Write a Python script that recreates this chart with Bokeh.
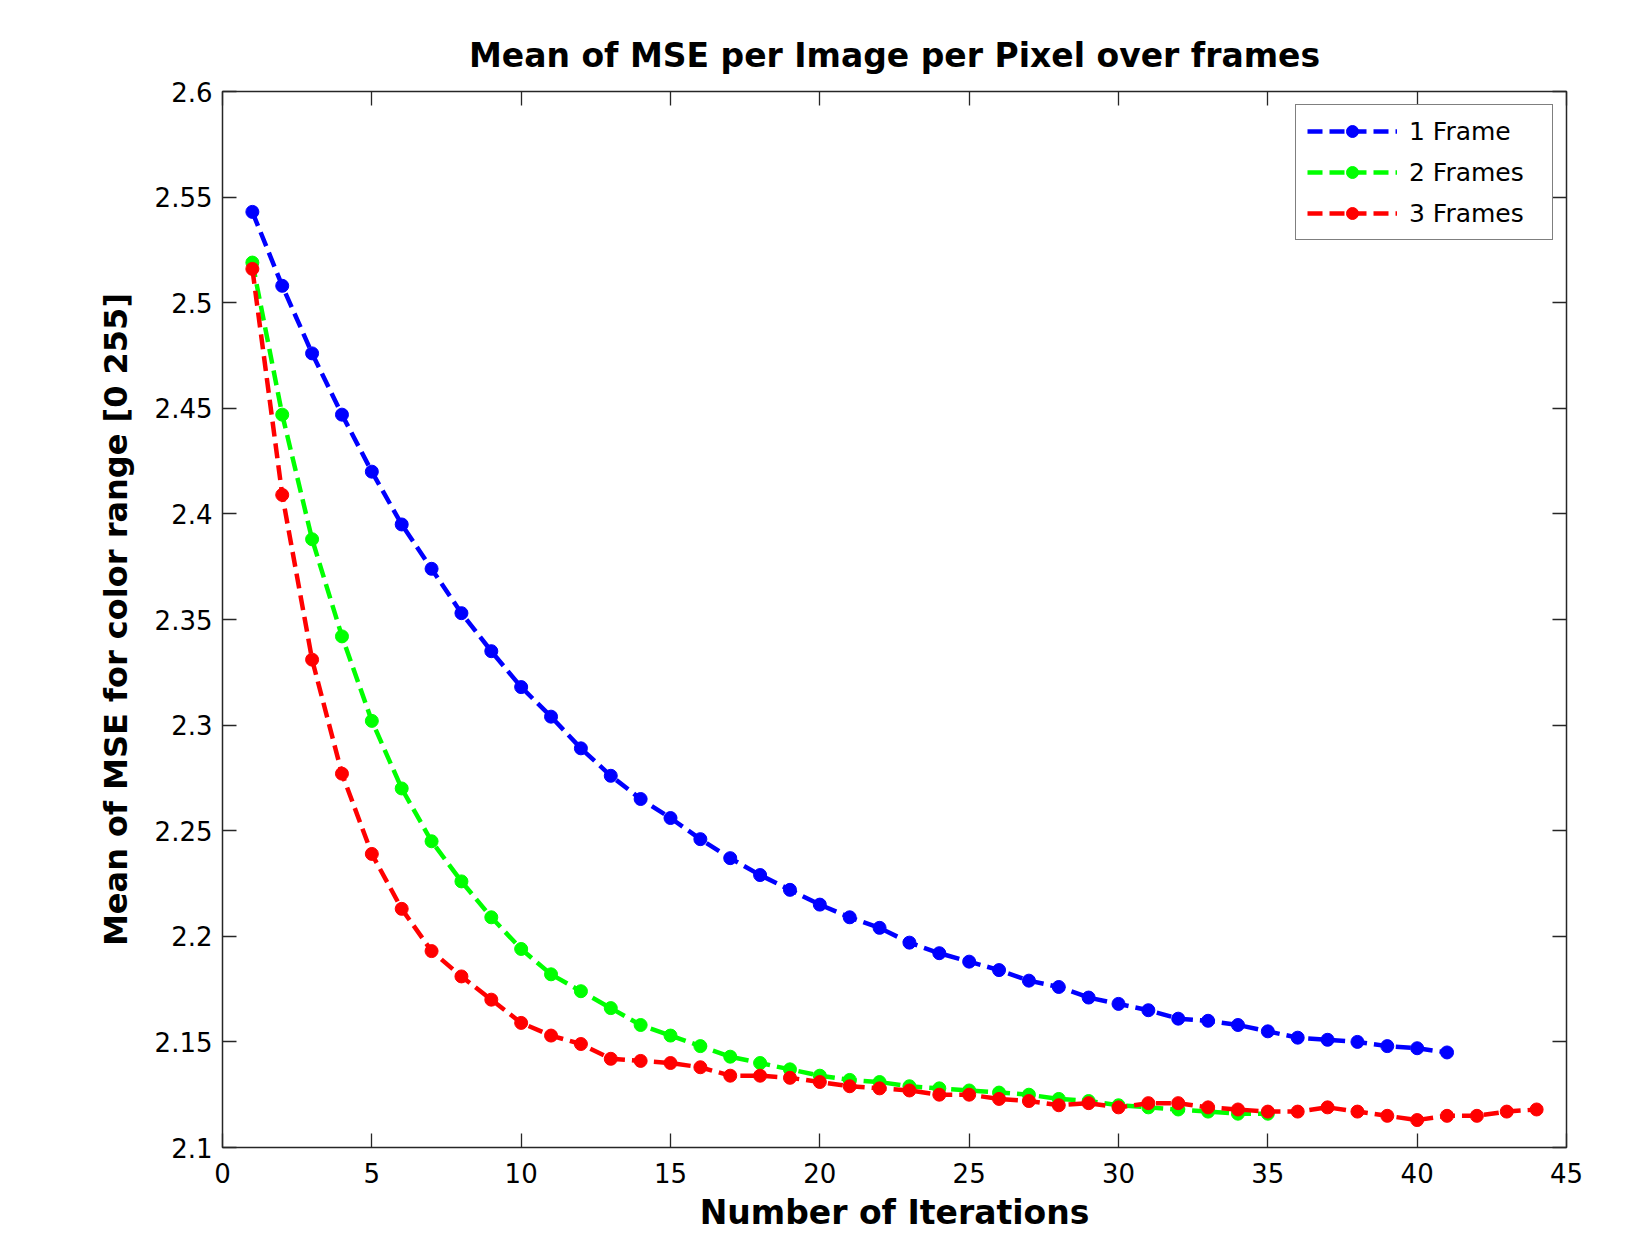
from bokeh.plotting import figure
from bokeh.models import LinearAxis, FixedTicker, CustomJSTickFormatter, Range1d, Legend, LegendItem
from bokeh.embed import file_html
from bokeh.resources import INLINE

# ---- data ----
iter_1frame = list(range(1, 42))
mse_1frame = [2.543, 2.508, 2.476, 2.447, 2.420, 2.395, 2.374, 2.353, 2.335, 2.318,
              2.304, 2.289, 2.276, 2.265, 2.256, 2.246, 2.237, 2.229, 2.222, 2.215,
              2.209, 2.204, 2.197, 2.192, 2.188, 2.184, 2.179, 2.176, 2.171, 2.168,
              2.165, 2.161, 2.160, 2.158, 2.155, 2.152, 2.151, 2.150, 2.148, 2.147,
              2.145]

iter_2frames = list(range(1, 36))
mse_2frames = [2.519, 2.447, 2.388, 2.342, 2.302, 2.270, 2.245, 2.226, 2.209, 2.194,
               2.182, 2.174, 2.166, 2.158, 2.153, 2.148, 2.143, 2.140, 2.137, 2.134,
               2.132, 2.131, 2.129, 2.128, 2.127, 2.126, 2.125, 2.123, 2.122, 2.120,
               2.119, 2.118, 2.117, 2.116, 2.116]

iter_3frames = list(range(1, 45))
mse_3frames = [2.516, 2.409, 2.331, 2.277, 2.239, 2.213, 2.193, 2.181, 2.170, 2.159,
               2.153, 2.149, 2.142, 2.141, 2.140, 2.138, 2.134, 2.134, 2.133, 2.131,
               2.129, 2.128, 2.127, 2.125, 2.125, 2.123, 2.122, 2.120, 2.121, 2.119,
               2.121, 2.121, 2.119, 2.118, 2.117, 2.117, 2.119, 2.117, 2.115, 2.113,
               2.115, 2.115, 2.117, 2.118]

series_labels = ["1 Frame", "2 Frames", "3 Frames"]
series_colors = ["#0000FF", "#00FF00", "#FF0000"]

x_ticks = [0, 5, 10, 15, 20, 25, 30, 35, 40, 45]
y_ticks = [2.1, 2.15, 2.2, 2.25, 2.3, 2.35, 2.4, 2.45, 2.5, 2.55, 2.6]

FONT = "DejaVu Sans"
AXC = "#262626"

p = figure(width=1620, height=1234, output_backend="svg", toolbar_location=None,
           x_range=Range1d(0, 45), y_range=Range1d(2.1, 2.6),
           title="Mean of MSE per Image per Pixel over frames",
           min_border_left=222, min_border_right=54, min_border_top=91, min_border_bottom=85)

p.background_fill_color = "white"
p.border_fill_color = "white"
p.outline_line_color = AXC
p.outline_line_width = 1.5
p.grid.visible = False

p.title.text_font = FONT
p.title.text_font_size = "33px"
p.title.text_font_style = "bold"
p.title.align = "center"
p.title.text_color = "black"
p.title.offset = 0
p.title.standoff = 34

yfmt = CustomJSTickFormatter(code="return tick.toFixed(2).replace(/0$/, '');")
blankfmt = CustomJSTickFormatter(code="return '';")

def style_axis(ax):
    ax.axis_line_color = None
    ax.major_tick_in = 14
    ax.major_tick_out = 0
    ax.minor_tick_in = 0
    ax.minor_tick_out = 0
    ax.major_tick_line_color = AXC
    ax.major_tick_line_width = 1.3
    ax.major_label_text_font = FONT
    ax.major_label_text_color = "black"
    ax.major_label_text_font_size = "26px"

xa = p.xaxis[0]
xa.ticker = FixedTicker(ticks=x_ticks)
style_axis(xa)
xa.major_label_standoff = 15
xa.axis_label = "Number of Iterations"
xa.axis_label_text_font = FONT
xa.axis_label_text_font_size = "33px"
xa.axis_label_text_font_style = "bold"
xa.axis_label_text_color = "black"
xa.axis_label_standoff = 7

ya = p.yaxis[0]
ya.ticker = FixedTicker(ticks=y_ticks)
ya.formatter = yfmt
style_axis(ya)
ya.major_label_standoff = 10
ya.axis_label = "Mean of MSE for color range [0 255]"
ya.axis_label_text_font = FONT
ya.axis_label_text_font_size = "32px"
ya.axis_label_text_font_style = "bold"
ya.axis_label_text_color = "black"
ya.axis_label_standoff = 17

top = LinearAxis(ticker=FixedTicker(ticks=x_ticks), formatter=blankfmt)
style_axis(top)
top.major_label_standoff = 0
top.major_label_text_font_size = "1px"
p.add_layout(top, "above")
right = LinearAxis(ticker=FixedTicker(ticks=y_ticks), formatter=blankfmt)
style_axis(right)
right.major_label_standoff = 0
right.major_label_text_font_size = "1px"
p.add_layout(right, "right")

items = []
for xs, ys, lab, col in [(iter_1frame, mse_1frame, series_labels[0], series_colors[0]),
                         (iter_2frames, mse_2frames, series_labels[1], series_colors[1]),
                         (iter_3frames, mse_3frames, series_labels[2], series_colors[2])]:
    r1 = p.line(xs, ys, line_color=col, line_width=4.5, line_dash="15 7")
    r2 = p.scatter(xs, ys, marker="circle", size=13, fill_color=col, line_color=col)
    items.append(LegendItem(label=lab, renderers=[r1, r2]))

legend = Legend(items=items, location="top_right")
legend.label_text_font = FONT
legend.label_text_font_size = "25px"
legend.label_text_color = "black"
legend.glyph_width = 90
legend.glyph_height = 30
legend.spacing = 11
legend.padding = 11
legend.margin = 13
legend.border_line_color = "black"
legend.border_line_width = 1.3
legend.background_fill_alpha = 1.0
legend.label_standoff = 12
legend.label_width = 132
p.add_layout(legend)

open("out.html", "w").write(file_html(p, INLINE))
